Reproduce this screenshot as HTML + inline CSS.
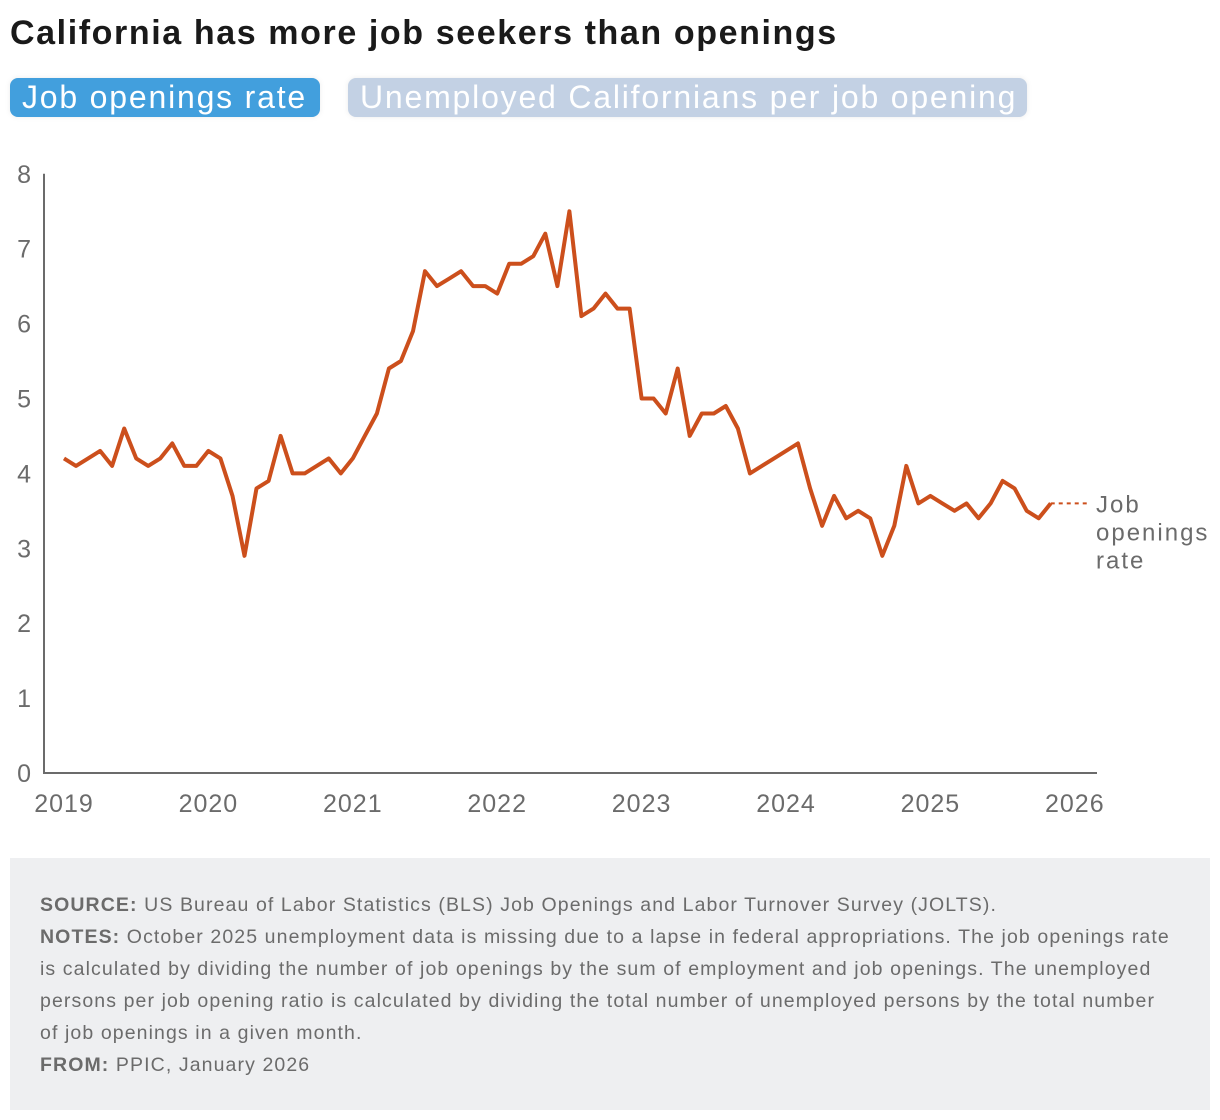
<!DOCTYPE html>
<html><head><meta charset="utf-8"><style>
body{margin:0;background:#fff;font-family:"Liberation Sans",sans-serif;width:1220px;height:1120px;position:relative;overflow:hidden}
#title{position:absolute;left:10px;top:14px;font-size:34px;font-weight:bold;color:#1a1a1a;letter-spacing:1.6px}
.btn{position:absolute;top:78px;height:39px;border-radius:8px;color:#fff;font-size:32px;line-height:39px;padding:0 12px;box-sizing:border-box;box-shadow:0 0 6px rgba(0,0,0,0.08);letter-spacing:1.8px;white-space:nowrap}
#foot{position:absolute;left:10px;top:858px;width:1200px;height:252px;background:#eeeff1;box-sizing:border-box;padding:31px 30px;color:#6b6b6b;font-size:19.5px;line-height:32px;letter-spacing:1.1px}
#foot b{color:#6b6b6b}
</style></head><body>
<div id="title">California has more job seekers than openings</div>
<div class="btn" style="left:10px;width:310px;background:#429fdd">Job openings rate</div>
<div class="btn" style="left:348px;width:679px;background:#c3d1e4">Unemployed Californians per job opening</div>
<svg id="chart" width="1220" height="850" style="position:absolute;left:0;top:0"></svg>
<div id="foot">
<div><b>SOURCE:</b> US Bureau of Labor Statistics (BLS) Job Openings and Labor Turnover Survey (JOLTS).</div>
<div><b>NOTES:</b> October 2025 unemployment data is missing due to a lapse in federal appropriations. The job openings rate is calculated by dividing the number of job openings by the sum of employment and job openings. The unemployed persons per job opening ratio is calculated by dividing the total number of unemployed persons by the total number of job openings in a given month.</div>
<div><b>FROM:</b> PPIC, January 2026</div>
</div>
<script>
const yTicks=[0,1,2,3,4,5,6,7,8];
const xTickLabels=["2019","2020","2021","2022","2023","2024","2025","2026"];
const startYear=2019;
const rateValues=[
4.2,4.1,4.2,4.3,4.1,4.6,4.2,4.1,4.2,4.4,4.1,4.1,
4.3,4.2,3.7,2.9,3.8,3.9,4.5,4.0,4.0,4.1,4.2,4.0,
4.2,4.5,4.8,5.4,5.5,5.9,6.7,6.5,6.6,6.7,6.5,6.5,
6.4,6.8,6.8,6.9,7.2,6.5,7.5,6.1,6.2,6.4,6.2,6.2,
5.0,5.0,4.8,5.4,4.5,4.8,4.8,4.9,4.6,4.0,4.1,4.2,
4.3,4.4,3.8,3.3,3.7,3.4,3.5,3.4,2.9,3.3,4.1,3.6,
3.7,3.6,3.5,3.6,3.4,3.6,3.9,3.8,3.5,3.4,3.6];
const NS="http://www.w3.org/2000/svg";
const svg=document.getElementById('chart');
const x0=64,yearW=144.4,y0=773,unit=74.9;
const xs=m=>x0+m*yearW/12;
const ys=v=>y0-v*unit;
function mk(t,a){const e=document.createElementNS(NS,t);for(const k in a)e.setAttribute(k,a[k]);svg.appendChild(e);return e;}
let e=mk('line',{x1:44,y1:ys(8),x2:44,y2:y0+1,stroke:'#6b6b6b','stroke-width':2});


e=mk('line',{x1:43,y1:y0,x2:1097,y2:y0,stroke:'#6b6b6b','stroke-width':2});


yTicks.forEach(v=>{
 const t=mk('text',{x:31,y:ys(v)+9,'text-anchor':'end','font-size':25,fill:'#6b6b6b','font-family':'Liberation Sans, sans-serif'});
 t.textContent=v;
 
 
});
xTickLabels.forEach((l,i)=>{
 const t=mk('text',{x:xs(i*12),y:812,'text-anchor':'middle','font-size':25,fill:'#6b6b6b','font-family':'Liberation Sans, sans-serif','letter-spacing':1});
 t.textContent=l;
 
 
});
const pts=rateValues.map((v,i)=>xs(i).toFixed(1)+','+ys(v).toFixed(1)).join(' ');
e=mk('polyline',{points:pts,fill:'none',stroke:'#cc4f1c','stroke-width':4,'stroke-linejoin':'round'});


const last=rateValues.length-1;
e=mk('line',{x1:xs(last),y1:ys(rateValues[last]),x2:1088,y2:ys(rateValues[last]),stroke:'#cc4f1c','stroke-width':2,'stroke-dasharray':'4,4'});


["Job","openings","rate"].forEach((w,i)=>{
 const t=mk('text',{x:1096,y:ys(rateValues[last])+9+i*28,'font-size':24,fill:'#6b6b6b','font-family':'Liberation Sans, sans-serif','letter-spacing':2});
 t.textContent=w;
 
 
});
</script>
</body></html>
